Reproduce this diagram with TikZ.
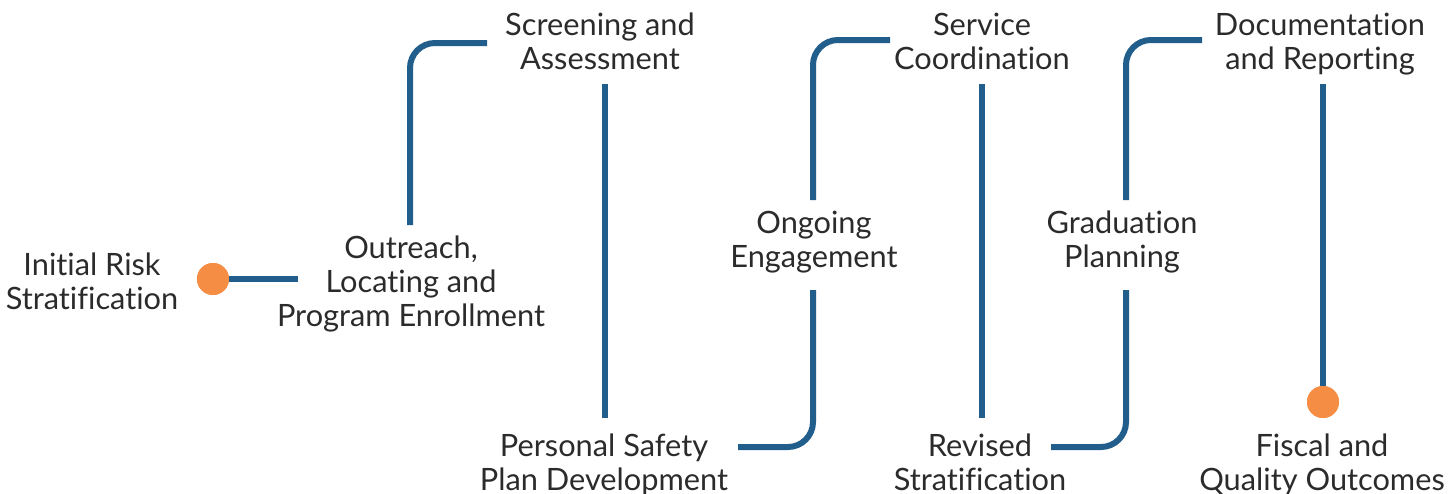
\documentclass[tikz,border=0pt]{standalone}
\usepackage{fontspec}
\setmainfont[Ligatures=NoCommon]{Lato}
\usepackage{tikz, tkz-euclide}
\definecolor{trackblue}{RGB}{33,94,140}
\definecolor{dotorange}{RGB}{245,141,69}
\definecolor{inkgray}{RGB}{43,43,43}

\begin{document}
\begin{tikzpicture}[
  stage/.style={align=center, text=inkgray, font=\fontsize{17.5}{19.3}\selectfont},
  track/.style={draw=trackblue, line width=0.12cm, rounded corners=0.5cm},
  dot/.style={circle, fill=dotorange, minimum size=0.64cm, inner sep=0pt}]
\useasboundingbox (0,0) rectangle (29,9.86);
\node[stage] (risk) at (1.84,4.24) {Initial Risk\\Stratification};
\node[stage] (outreach) at (8.22,4.18) {Outreach,\\Locating and\\Program Enrollment};
\node[stage] (screening) at (12.00,9.04) {Screening and\\Assessment};
\node[stage] (safety) at (12.08,0.57) {Personal Safety\\Plan Development};
\node[stage] (ongoing) at (16.28,5.02) {Ongoing\\Engagement};
\node[stage] (service) at (19.64,9.04) {Service\\Coordination};
\node[stage] (revised) at (19.60,0.62) {Revised\\Stratification};
\node[stage] (graduation) at (22.44,5.02) {Graduation\\Planning};
\node[stage] (documentation) at (26.40,8.98) {Documentation\\and Reporting};
\node[stage] (fiscal) at (26.44,0.56) {Fiscal and\\Quality Outcomes};
\tkzDefPoints{5.96/4.28/B, 8.20/5.36/C, 9.74/9.00/E, 14.76/0.92/F, 16.26/4.06/G,
  16.26/5.86/H, 17.80/9.06/I, 21.02/0.92/J, 22.52/4.06/K, 22.52/5.86/L, 24.04/9.06/M,
  12.10/8.18/N, 12.10/1.50/O, 19.64/8.18/P, 19.64/1.50/Q, 26.46/8.18/R}
\node[dot] (start) at (4.26,4.28) {};
\node[dot] (finish) at (26.46,1.82) {};
\draw[track] (start) -- (B);
\draw[track] (C) |- (E);
\draw[track] (F) -| (G);
\draw[track] (H) |- (I);
\draw[track] (J) -| (K);
\draw[track] (L) |- (M);
\draw[track] (N) -- (O);
\draw[track] (P) -- (Q);
\draw[track] (R) -- (finish);
\node[dot] at (start) {};
\node[dot] at (finish) {};
\end{tikzpicture}
\end{document}
